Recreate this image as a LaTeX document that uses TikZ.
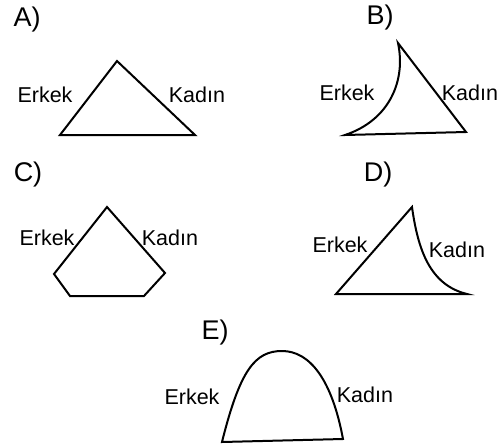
\documentclass[tikz,border=0pt]{standalone}
\usepackage{fontspec}
\setmainfont{Liberation Sans}
\usepackage{tikz}

\tikzset{
    harf/.style={font=\fontsize{27}{30}\selectfont, inner sep=0pt},
    isim/.style={font=\fontsize{21.5}{24}\selectfont, inner sep=0pt},
    cizgi/.style={line width=2pt, line join=miter}
}

\begin{document}
\begin{tikzpicture}[x=1pt, y=-1pt]
\useasboundingbox (0,0) rectangle (499,445);

% A)
\node[harf] (harfA) at (27,20) {A)};
\node[isim] (erkA) at (45,95) {Erkek};
\node[isim] (kadA) at (197,95) {Kadın};
\draw[cizgi] (60,135) -- (117,61) -- (195,135) -- cycle;

% B)
\node[harf] (harfB) at (380,18) {B)};
\node[isim] (erkB) at (347,93) {Erkek};
\node[isim] (kadB) at (470,93) {Kadın};
\draw[cizgi] (345,135) .. controls (390,120) and (406,80) .. (398,43)
    -- (466,132) -- cycle;

% C)
\node[harf] (harfC) at (28,175) {C)};
\node[isim] (erkC) at (47,238) {Erkek};
\node[isim] (kadC) at (170,238) {Kadın};
\draw[cizgi] (107,207) -- (165,273) -- (144,296) -- (70,296) -- (54,274) -- cycle;

% D)
\node[harf] (harfD) at (378,175) {D)};
\node[isim] (erkD) at (340,245) {Erkek};
\node[isim] (kadD) at (457,250) {Kadın};
\draw[cizgi] (336,294) -- (412,207)
    .. controls (418,250) and (430,285) .. (467,294) -- cycle;

% E)
\node[harf] (harfE) at (215,333) {E)};
\node[isim] (erkE) at (192,397) {Erkek};
\node[isim] (kadE) at (365,395) {Kadın};
\draw[cizgi] (222,442) .. controls (240,370) and (255,351) .. (282,351)
    .. controls (310,351) and (332,380) .. (343,439) -- cycle;

\end{tikzpicture}
\end{document}
